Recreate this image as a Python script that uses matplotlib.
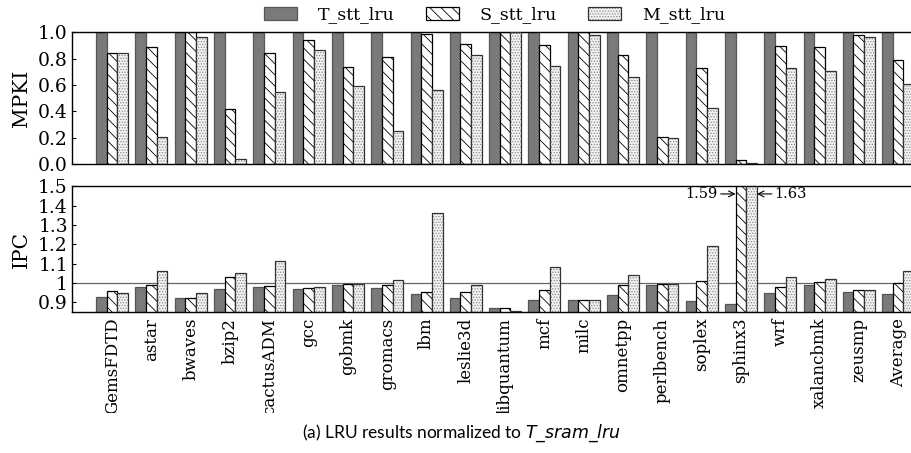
import matplotlib
matplotlib.use("Agg")
import matplotlib.pyplot as plt
from matplotlib.transforms import Bbox, TransformedBbox
from matplotlib.legend_handler import HandlerTuple
import numpy as np

categories = ["GemsFDTD", "astar", "bwaves", "bzip2", "cactusADM", "gcc", "gobmk",
              "gromacs", "lbm", "leslie3d", "libquantum", "mcf", "milc", "omnetpp",
              "perlbench", "soplex", "sphinx3", "wrf", "xalancbmk", "zeusmp", "Average"]
series = ["T_stt_lru", "S_stt_lru", "M_stt_lru"]

mpki_T = [1.0] * 21
mpki_S = [0.843, 0.889, 1.0, 0.42, 0.84, 0.94, 0.737, 0.81, 0.987, 0.909, 1.0,
          0.904, 1.0, 0.828, 0.205, 0.727, 0.03, 0.896, 0.886, 0.977, 0.79]
mpki_M = [0.843, 0.205, 0.96, 0.04, 0.545, 0.866, 0.59, 0.25, 0.56, 0.826, 1.0,
          0.742, 0.98, 0.659, 0.2, 0.424, 0.008, 0.727, 0.705, 0.967, 0.606]

ipc_T = [0.927, 0.98, 0.922, 0.969, 0.98, 0.969, 0.99, 0.976, 0.944, 0.921, 0.87,
         0.915, 0.911, 0.939, 0.99, 0.908, 0.891, 0.949, 0.99, 0.954, 0.944]
ipc_S = [0.957, 0.988, 0.922, 1.031, 0.986, 0.974, 0.995, 0.99, 0.954, 0.954, 0.872,
         0.964, 0.911, 0.99, 0.997, 1.012, 1.59, 0.98, 1.003, 0.962, 1.0]
ipc_M = [0.95, 1.06, 0.949, 1.051, 1.113, 0.981, 0.995, 1.017, 1.363, 0.99, 0.858,
         1.082, 0.911, 1.041, 0.995, 1.19, 1.63, 1.031, 1.02, 0.962, 1.06]

mpki_ticks = [0.0, 0.2, 0.4, 0.6, 0.8, 1.0]
mpki_ticklabels = ["0.0", "0.2", "0.4", "0.6", "0.8", "1.0"]
ipc_ticks = [0.9, 1.0, 1.1, 1.2, 1.3, 1.4, 1.5]
ipc_ticklabels = ["0.9", "1", "1.1", "1.2", "1.3", "1.4", "1.5"]
caption_plain = "(a) LRU results normalized to "
caption_ital = "T_sram_lru"

SERIF = "DejaVu Serif"
FS = 13.5

plt.rcParams["hatch.linewidth"] = 0.6

fig = plt.figure(figsize=(9.12, 4.53), dpi=100)
left = 0.079
width = 0.9489
ax1 = fig.add_axes([left, 0.638, width, 0.291])
ax2 = fig.add_axes([left, 0.311, width, 0.278])

x = np.arange(len(categories))
w = 0.272

T_style = dict(facecolor="#7a7a7a", edgecolor="#555555", linewidth=0.9)
S_style = dict(facecolor="white", edgecolor="black", hatch="\\\\\\", linewidth=0.9)
M_fill = dict(facecolor="#f2f2f2", edgecolor="#8a8a8a", hatch="......", linewidth=0)
M_edge = dict(facecolor="none", edgecolor="#333333", linewidth=0.9)


def draw(ax, t, s, m):
    bt = ax.bar(x - w, t, w, zorder=2, **T_style)
    bs = ax.bar(x, s, w, zorder=2, **S_style)
    bmf = ax.bar(x + w, m, w, zorder=2, **M_fill)
    bme = ax.bar(x + w, m, w, zorder=3, **M_edge)
    return bt, bs, bmf, bme


bt, bs, bmf, bme = draw(ax1, mpki_T, mpki_S, mpki_M)
draw(ax2, ipc_T, ipc_S, ipc_M)

for ax in (ax1, ax2):
    ax.set_xlim(-1.02, 21.0)
    ax.tick_params(axis="y", direction="in", length=3, width=0.8, labelsize=FS, pad=3)
    ax.tick_params(axis="x", length=0)
    for sp in ax.spines.values():
        sp.set_linewidth(1.0)

ax1.set_ylim(0, 1.0)
ax1.set_yticks(mpki_ticks)
ax1.set_yticklabels(mpki_ticklabels, family=SERIF, fontsize=FS)
ax1.set_xticks([])
ax1.set_ylabel("MPKI", family=SERIF, fontsize=14.5)
ax1.yaxis.set_label_coords(-0.048, 0.5)

ax2.set_ylim(0.85, 1.5)
ax2.set_yticks(ipc_ticks)
ax2.set_yticklabels(ipc_ticklabels, family=SERIF, fontsize=FS)
ax2.set_ylabel("IPC", family=SERIF, fontsize=14.5)
ax2.yaxis.set_label_coords(-0.048, 0.5)
ax2.axhline(1.0, color="#666666", linewidth=0.9, zorder=1)
ax2.set_xticks(x)
ax2.set_xticklabels(categories, rotation=90, family=SERIF, fontsize=12, va="top", ha="center")
ax2.tick_params(axis="x", pad=4)

clip = TransformedBbox(Bbox([[0, 40 / 453], [1, 1]]), fig.transFigure)
for lbl in ax2.get_xticklabels():
    lbl.set_clip_on(True)
    lbl.set_clip_box(clip)

# annotations for clipped sphinx3 bars
i = categories.index("sphinx3")
ya = 1.46
ax2.annotate(f"{ipc_S[i]:.2f}", xy=(i - w / 2, ya), xytext=(i - w / 2 - 0.45, ya),
             ha="right", va="center", family=SERIF, fontsize=10.5,
             arrowprops=dict(arrowstyle="->", lw=0.8, shrinkA=0, shrinkB=0), zorder=5)
ax2.annotate(f"{ipc_M[i]:.2f}", xy=(i + 1.5 * w, ya), xytext=(i + 1.5 * w + 0.45, ya),
             ha="left", va="center", family=SERIF, fontsize=10.5,
             arrowprops=dict(arrowstyle="->", lw=0.8, shrinkA=0, shrinkB=0), zorder=5)

fig.legend([bt, bs, (bmf, bme)], series, loc="center", bbox_to_anchor=(0.542, 0.967),
           ncol=3, frameon=False, prop=dict(family=SERIF, size=12.5),
           handlelength=1.9, handleheight=0.8, handletextpad=1.2, columnspacing=1.8,
           handler_map={tuple: HandlerTuple(ndivide=1, pad=0)})

fig.text(0.506, 0.044, caption_plain + r"$\it{" + caption_ital.replace("_", r"\_") + "}$",
         ha="center", va="center", family="Lato", fontsize=12.5)

fig.savefig("out.png", dpi=100)
